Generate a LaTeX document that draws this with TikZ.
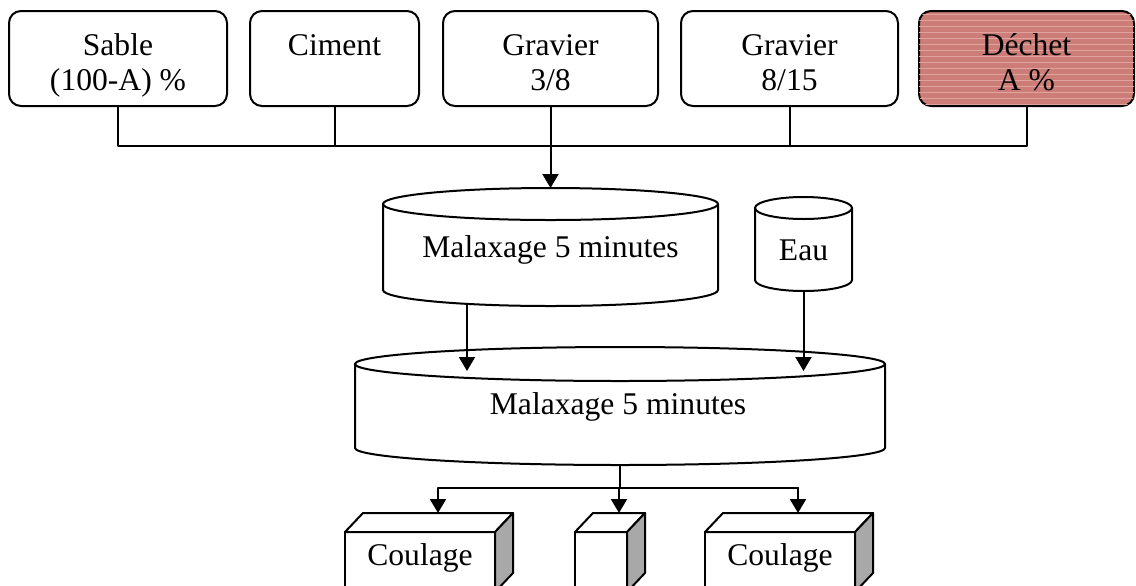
\documentclass[tikz,border=0pt]{standalone}
\usepackage{fontspec}
\setmainfont{Liberation Serif}
\usetikzlibrary{arrows.meta}
\usetikzlibrary{patterns}
\definecolor{brickred}{rgb}{0.80,0.49,0.47}
\definecolor{brickdot}{rgb}{0.88,0.64,0.62}
\definecolor{sidegray}{rgb}{0.66,0.66,0.66}
% premiere ligne un peu plus haute pour descendre le texte dans les boites
\newcommand{\lignehaute}{\rule{0pt}{19.75pt}}

\begin{document}
\begin{tikzpicture}[x=0.5pt,y=-0.5pt,line cap=round,line join=round,
	every node/.style={font=\fontsize{15.8}{17.5}\selectfont},
	boite/.style={draw,line width=1pt,rounded corners=6pt,minimum height=47.5pt,align=center,inner sep=0pt},
	fleche/.style={-{Triangle[length=7pt,width=8pt]},line width=1pt}]
	\useasboundingbox (0,0) rectangle (1136,585);
	\clip (0,0) rectangle (1136,585);
	% constituants
	\node[boite,minimum width=109pt] (sable) at (118,58.5) {\lignehaute Sable\\\strut(100-A) \%};
	\node[boite,minimum width=84.5pt] (ciment) at (334.5,58.5) {\lignehaute Ciment\\\strut};
	\node[boite,minimum width=107.5pt] (gravierA) at (550.5,58.5) {\lignehaute Gravier\\\strut3/8};
	\node[boite,minimum width=108.5pt] (gravierB) at (789.5,58.5) {\lignehaute Gravier\\\strut8/15};
	\node[boite,minimum width=107.5pt,fill=brickred,postaction={pattern=horizontal lines,pattern color=brickdot}] (dechet) at (1026.5,58.5) {\lignehaute D\'echet\\\strut A \%};
	\coordinate (bus) at (550.5,146);
	\draw[line width=1pt] (sable.south) |- (bus) -| (dechet.south);
	\foreach \c in {ciment,gravierB}
	\draw[line width=1pt] (\c.south) -- (\c.south |- bus);
	% malaxeurs
	\foreach \cx/\rx/\yh/\yb/\ry in {550.5/167.5/204/290/16, 803.5/48.5/208/280/11, 620/265/364/448/17}{
		\draw[line width=1pt,fill=white] (\cx-\rx,\yh) -- (\cx-\rx,\yb) arc[start angle=180,end angle=0,x radius=\rx,y radius=\ry] -- (\cx+\rx,\yh);
		\draw[line width=1pt] (\cx,\yh) ellipse[x radius=\rx,y radius=\ry];
	}
	\node (malaxA) at (550.5,250) {Malaxage 5 minutes};
	\node (eau) at (803.5,250) {Eau};
	\node (malaxB) at (618,407) {Malaxage 5 minutes};
	\coordinate (malaxAhaut) at (550.5,188);
	\coordinate (malaxAbas) at (467,304);
	\coordinate (eaubas) at (803.5,291);
	\coordinate (entreeA) at (467,371);
	\coordinate (entreeEau) at (803.5,371);
	\coordinate (malaxBbas) at (620,465);
	\coordinate (repart) at (620,488);
	\draw[fleche] (gravierA.south) -- (malaxAhaut);
	\draw[fleche] (malaxAbas) -- (entreeA);
	\draw[fleche] (eaubas) -- (entreeEau);
	\draw[line width=1pt] (malaxBbas) -- (repart);
	% moules
	\foreach \g/\d/\nom/\txt in {345/495/mouleA/Coulage, 575/627/mouleB/{}, 705/855/mouleC/Coulage}{
		\draw[line width=1pt,fill=white] (\g,532) -- (\g+18,513) -- (\d+18,513) -- (\d,532) -- cycle;
		\draw[line width=1pt,fill=sidegray] (\d,532) -- (\d+18,513) -- (\d+18,573) -- (\d,592) -- cycle;
		\draw[line width=1pt] (\g,532) rectangle (\d,592);
		\node (\nom) at ({(\g+\d)/2},558) {\txt};
		\coordinate (h\nom) at ({(\g+\d)/2+18},513);
	}
	\draw[line width=1pt] (hmouleA |- repart) -- (hmouleC |- repart);
	\foreach \m in {hmouleA,hmouleB,hmouleC}
	\draw[fleche] (\m |- repart) -- (\m);
\end{tikzpicture}
\end{document}
